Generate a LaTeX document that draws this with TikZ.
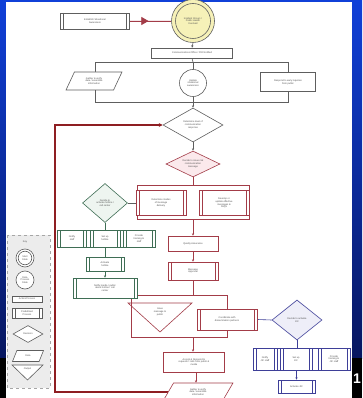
\documentclass[tikz,border=0pt]{standalone}
\usepackage{fontspec}
\setmainfont{Liberation Sans}
\usetikzlibrary{shapes.geometric,arrows.meta,decorations.markings}
\pgfdeclarelayer{back}
\pgfdeclarelayer{bg}
\pgfsetlayers{back,bg,main}
\definecolor{gl}{HTML}{5E5E5E}
\definecolor{rl}{HTML}{A33C48}
\definecolor{grn}{HTML}{3F6E55}
\definecolor{bl}{HTML}{3E3F98}
\definecolor{loopred}{HTML}{8E1E22}
\definecolor{txt}{HTML}{505050}
\definecolor{pinkf}{HTML}{FBE9EC}
\definecolor{greenf}{HTML}{EEF5F0}
\definecolor{bluef}{HTML}{EEEEF8}
\definecolor{yel}{HTML}{F6F1B8}
\definecolor{topblue}{HTML}{1040D8}
\definecolor{botblue}{HTML}{071660}
\tikzset{
  base/.style={font=\fontsize{2.4}{2.8}\selectfont, text=txt, align=center, inner sep=0.4pt, line width=0.6pt},
  box/.style={base, rectangle, draw=#1, fill=white},
  pp/.style={base, rectangle, draw=#1, fill=white,
    path picture={\draw[#1, line width=0.6pt]
      ([xshift=3pt]path picture bounding box.north west) -- ([xshift=3pt]path picture bounding box.south west)
      ([xshift=-3pt]path picture bounding box.north east) -- ([xshift=-3pt]path picture bounding box.south east);}},
  dia/.style={base, diamond, draw=#1, inner sep=0pt},
  par/.style={base, trapezium, trapezium left angle=65, trapezium right angle=115, trapezium stretches=true, draw=#1, fill=white},
  circ/.style={base, circle, draw=#1, fill=white},
  lnk/.style={line width=0.6pt, draw=#1},
  tip/.style={-{Stealth[length=2.4pt,width=2.2pt]}},
  loopline/.style={line width=1.6pt, draw=loopred},
  midarrow/.style={postaction={decorate}, decoration={markings, mark=at position 0.45 with {\arrow{Triangle[length=7pt,width=8pt]}}}}
}
\begin{document}
\begin{tikzpicture}[x=1pt,y=-1pt]
\useasboundingbox (0,0) rectangle (362,398);
\begin{pgfonlayer}{back}
  \shade[top color=topblue, bottom color=botblue] (0,0) rectangle (362,358);
  \fill[black] (0,358) rectangle (362,398);
  \fill[white] (6,2) rectangle (352,398);
  \node[font=\bfseries\fontsize{14}{14}\selectfont, text=white, inner sep=0pt] (one) at (357,379) {1};
  \draw[dashed, draw=gray!70, fill=gray!15, line width=0.5pt] (7,235) rectangle (50,388);
\end{pgfonlayer}

% ---- top part (gray)
\node[pp=gl, minimum width=69pt, minimum height=16pt] (est) at (95,21) {Establish Situational\\Awareness};
\node[circ=gl, fill=yel, minimum size=43pt,
  path picture={\draw[gl, line width=0.6pt] (path picture bounding box.center) circle (17.5pt);}] (start) at (193,21) {Incident Occurs /\\Public Health\\Involved};
\node[box=gl, minimum width=81pt, minimum height=10pt] (pio) at (192,53) {Communications Office / PIO Notified};
\node[par=gl, minimum width=56pt, minimum height=18pt] (gather1) at (94,81) {Gather \& verify\\data / assemble\\information};
\node[circ=gl, minimum size=27pt] (update) at (193,83) {Update\\situational\\awareness};
\node[box=gl, minimum width=55pt, minimum height=19pt] (respond) at (288,82) {Respond to early inquiries\\from public};
\node[dia=gl, aspect=1.8, minimum width=60pt, minimum height=34pt, fill=white] (det) at (193,125) {Determine level of\\communication\\response};

% ---- red part
\node[dia=rl, aspect=2, minimum width=54pt, minimum height=26pt, fill=pinkf] (issue) at (193,164) {Decide to issue risk\\communication\\message};
\node[pp=rl, minimum width=50pt, minimum height=25pt] (modes) at (161,203) {Determine modes\\of message\\delivery};
\node[pp=rl, minimum width=50pt, minimum height=25pt] (develop) at (224,203) {Develop or\\update effective\\messages \&\\FAQs};
\node[box=rl, minimum width=50pt, minimum height=15pt] (qa) at (193,243.5) {Quality Assurance};
\node[pp=rl, minimum width=50pt, minimum height=18pt] (appr) at (193,271) {Message\\Approval};
\node[base, fill=none] (issuemsg) at (160,312) {Issue\\message to\\public};
\node[pp=rl, minimum width=60pt, minimum height=21pt] (coord) at (227,319.5) {Coordinate with\\dissemination partners};
\node[box=rl, minimum width=61pt, minimum height=20pt] (accept) at (194,362) {Accept \& Respond to\\requests / calls from public \&\\media};
\node[par=rl, minimum width=70pt, minimum height=18pt] (gather2) at (198,392) {Gather \& verify\\data / assemble\\information};

% ---- green part
\node[dia=grn, aspect=1.15, minimum width=45pt, minimum height=39pt, fill=greenf] (hot) at (105,203) {Decide to\\activate hotline /\\call center};
\node[pp=grn, minimum width=29pt, minimum height=17pt] (notify) at (72,238.5) {Notify\\staff};
\node[pp=grn, minimum width=30pt, minimum height=17pt] (setup) at (105,238.5) {Set up\\hotline};
\node[pp=grn, minimum width=32pt, minimum height=17pt] (train) at (139,238.5) {Provide\\training to\\staff};
\node[pp=grn, minimum width=38pt, minimum height=14pt] (acth) at (105,264) {Activate\\hotline};
\node[pp=grn, minimum width=64pt, minimum height=20pt] (notmed) at (105,288) {Notify media / public\\about hotline / call\\center};

% ---- blue part
\node[dia=bl, aspect=1.25, minimum width=50pt, minimum height=40pt, fill=bluef] (jic) at (297,320) {Decide to activate\\JIC};
\node[pp=bl, minimum width=24pt, minimum height=22pt] (njic) at (265,359) {Notify\\JIC staff};
\node[pp=bl, minimum width=32pt, minimum height=22pt] (sjic) at (296,359) {Set up\\JIC};
\node[pp=bl, minimum width=32pt, minimum height=22pt] (pjic) at (334,359) {Provide\\training to\\JIC staff};
\node[pp=bl, minimum width=37pt, minimum height=13pt] (ajic) at (296.5,386.5) {Activate JIC};

% ---- legend
\node[base] (key) at (25,242) {Key};
\node[circ=gl, minimum size=18pt,
  path picture={\draw[gl, line width=0.6pt] (path picture bounding box.center) circle (6.8pt);}] (kstart) at (25,258) {Start\\State};
\node[circ=gl, minimum size=18pt] (kdata) at (25,280) {Data\\Process\\State};
\node[box=gl, minimum width=30pt, minimum height=6pt] (kact) at (27,299) {Action/Process};
\node[pp=gl, minimum width=30pt, minimum height=10pt] (kpre) at (27,313) {Predefined\\Process};
\node[dia=gl, aspect=2, minimum width=30pt, minimum height=17pt, fill=white] (kdec) at (28,334) {Decision};
\node[par=gl, minimum width=31pt, minimum height=11pt] (kdat) at (28,356) {Data};
\node[base] (kout) at (27.5,369) {Output};

\begin{pgfonlayer}{bg}
  % triangles (output shapes)
  \draw[lnk=rl, fill=white] (128,303) -- (192,303) -- (160,332) -- cycle;
  \draw[lnk=gl, fill=white] (12,365) -- (43,365) -- (27.5,380) -- cycle;
  % top connectors
  \draw[lnk=rl, fill=rl, midarrow] (est.east) -- (start.west);
  \draw[lnk=gl, tip] (start.south) -- (pio.north);
  \draw[lnk=gl] (pio.south) -- (193,62);
  \draw[lnk=gl] (95,62) rectangle (288,102);
  \draw[lnk=gl] (193,62) -- (update.north);
  \draw[lnk=gl] (update.south) -- (193,102);
  \draw[lnk=gl, tip] (193,102) -- (det.north);
  \draw[lnk=gl, tip] (det.south) -- (issue.north);
  % red fork 1
  \draw[lnk=rl] (issue.south) -- (193,185);
  \draw[lnk=rl] (137,185) rectangle (249,219);
  \draw[lnk=rl, tip] (193,219) -- (qa.north);
  \draw[lnk=rl, tip] (qa.south) -- (appr.north);
  % green
  \draw[lnk=gl] (hot.east) -- (modes.west);
  \draw[lnk=grn] (hot.south) -- (105,230);
  \draw[lnk=grn] (58,230) rectangle (155,247);
  \draw[lnk=grn] (105,247) -- (acth.north);
  \draw[lnk=grn, tip] (acth.south) -- (notmed.north);
  % red fork 2
  \draw[lnk=rl] (appr.south) -- (193,295);
  \draw[lnk=rl] (131,295) rectangle (227,337);
  \draw[lnk=rl, tip] (193,337) -- (accept.north -| 193,0);
  \draw[lnk=rl, tip] (accept.south -| 196,0) -- (gather2.north -| 196,0);
  % blue
  \draw[lnk=bl] (coord.east) -- (jic.west);
  \draw[lnk=bl] (jic.south) -- (297,348);
  \draw[lnk=bl] (253,348) rectangle (350,370);
  \draw[lnk=bl, tip] (296.5,370) -- (ajic.north);
  % loop back
  \draw[loopline, -{Stealth[length=4pt,width=4pt]}] (gather2.west) -- (55,392) -- (55,125) -- (det.west);
\end{pgfonlayer}
\end{tikzpicture}
\end{document}
